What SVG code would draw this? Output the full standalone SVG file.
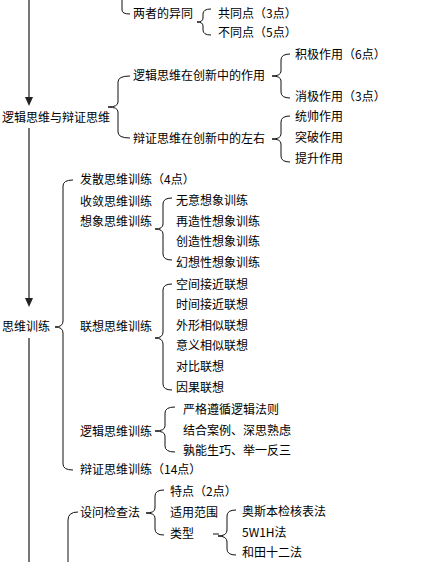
<svg xmlns="http://www.w3.org/2000/svg" width="434" height="562" viewBox="0 0 434 562">
<style>
text{font-family:"Noto Sans CJK SC","Noto Sans",sans-serif;font-size:12px;fill:#000}
.b{fill:none;stroke:#111;stroke-width:1}
.a{fill:none;stroke:#555;stroke-width:1.6}
</style>
<defs>
<marker id="ah" markerWidth="8" markerHeight="8" refX="4" refY="7" orient="auto-start-reverse" markerUnits="userSpaceOnUse" viewBox="0 0 8 8">
<path d="M0,0 L8,0 L4,8 Z" fill="#222" transform="rotate(-90 4 4)"/>
</marker>
</defs>
<rect width="434" height="562" fill="#fff"/>
<g id="connectors">
<line class="a" x1="29" y1="0" x2="29" y2="98"/>
<path d="M25,97 L33,97 L29,106 Z" fill="#222"/>
<line class="a" x1="29" y1="128" x2="29" y2="299"/>
<path d="M25,298 L33,298 L29,307 Z" fill="#222"/>
<line class="a" x1="29" y1="338" x2="29" y2="562"/>
<path class="b" d="M122,0 L122,10 Q122,14 130,14"/>
<path class="b" d="M211,9 Q203,9 203,14 L203,18 Q203,22 197,22 Q203,22 203,26 L203,30 Q203,35 211,35"/>
<path class="b" d="M130,76 Q118,76 118,82 L118,102 Q118,107 108,107 Q118,107 118,112 L118,132 Q118,138 130,138"/>
<path class="b" d="M290,54 Q281,54 281,60 L281,71 Q281,76 272,76 Q281,76 281,81 L281,92 Q281,98 290,98"/>
<path class="b" d="M290,116 Q281,116 281,122 L281,134 Q281,139 272,139 Q281,139 281,144 L281,156 Q281,162 290,162"/>
<path class="b" d="M73,180 Q63,180 63,186 L63,321 Q63,327 55,327 Q63,327 63,333 L63,464 Q63,470 73,470"/>
<path class="b" d="M172,198 Q163,198 163,204 L163,224 Q163,229 155,229 Q163,229 163,234 L163,254 Q163,260 172,260"/>
<path class="b" d="M172,284 Q163,284 163,290 L163,332 Q163,338 155,338 Q163,338 163,344 L163,384 Q163,390 172,390"/>
<path class="b" d="M175,407 Q165,407 165,413 L165,426 Q165,431 155,431 Q165,431 165,436 L165,446 Q165,452 175,452"/>
<path class="b" d="M78,512 Q68,512 68,520 L68,562"/>
<path class="b" d="M164,490 Q155,490 155,496 L155,508 Q155,513 146,513 Q155,513 155,518 L155,529 Q155,535 164,535"/>
<line class="b" x1="213" y1="534" x2="219" y2="534"/>
<path class="b" d="M236,510 Q227,510 227,516 L227,530 Q227,536 218,536 Q227,536 227,542 L227,549 Q227,555 236,555"/>
</g>
<g id="n-yitong"><text x="133" y="18">两者的异同</text></g>
<g id="n-gongtong"><text x="218" y="18">共同点（3点）</text></g>
<g id="n-butong"><text x="218" y="37">不同点（5点）</text></g>
<g id="n-zuoyong"><text x="133" y="80">逻辑思维在创新中的作用</text></g>
<g id="n-jiji"><text x="295" y="59">积极作用（6点）</text></g>
<g id="n-xiaoji"><text x="295" y="101">消极作用（3点）</text></g>
<g id="n-luoji-bianzheng"><text x="2" y="122">逻辑思维与辩证思维</text></g>
<g id="n-zuoyou"><text x="133" y="143">辩证思维在创新中的左右</text></g>
<g id="n-tongshuai"><text x="295" y="121">统帅作用</text></g>
<g id="n-tupo"><text x="295" y="142">突破作用</text></g>
<g id="n-tisheng"><text x="295" y="163">提升作用</text></g>
<g id="n-siwei-xunlian"><text x="2" y="331">思维训练</text></g>
<g id="n-fasan"><text x="80" y="184">发散思维训练（4点）</text></g>
<g id="n-shoulian"><text x="80" y="206">收敛思维训练</text></g>
<g id="n-xiangxiang"><text x="80" y="226">想象思维训练</text></g>
<g id="n-wuyi"><text x="176" y="205">无意想象训练</text></g>
<g id="n-zaizao"><text x="176" y="226">再造性想象训练</text></g>
<g id="n-chuangzao"><text x="176" y="246">创造性想象训练</text></g>
<g id="n-huanxiang"><text x="176" y="267">幻想性想象训练</text></g>
<g id="n-lianxiang"><text x="80" y="331">联想思维训练</text></g>
<g id="n-kongjian"><text x="176" y="289">空间接近联想</text></g>
<g id="n-shijian"><text x="176" y="309">时间接近联想</text></g>
<g id="n-waixing"><text x="176" y="330">外形相似联想</text></g>
<g id="n-yiyi"><text x="176" y="350">意义相似联想</text></g>
<g id="n-duibi"><text x="176" y="371">对比联想</text></g>
<g id="n-yinguo"><text x="176" y="392">因果联想</text></g>
<g id="n-luoji-xunlian"><text x="80" y="436">逻辑思维训练</text></g>
<g id="n-yange"><text x="183" y="414">严格遵循逻辑法则</text></g>
<g id="n-jiehe"><text x="183" y="435">结合案例、深思熟虑</text></g>
<g id="n-shuneng"><text x="183" y="455">孰能生巧、举一反三</text></g>
<g id="n-bianzheng-xunlian"><text x="80" y="474">辩证思维训练（14点）</text></g>
<g id="n-shewen"><text x="80" y="517">设问检查法</text></g>
<g id="n-tedian"><text x="170" y="496">特点（2点）</text></g>
<g id="n-shiyong"><text x="170" y="517">适用范围</text></g>
<g id="n-leixing"><text x="170" y="538">类型</text></g>
<g id="n-aosiben"><text x="242" y="516">奥斯本检核表法</text></g>
<g id="n-5w1h"><text x="242" y="537">5W1H法</text></g>
<g id="n-hetian"><text x="242" y="557">和田十二法</text></g>
</svg>
